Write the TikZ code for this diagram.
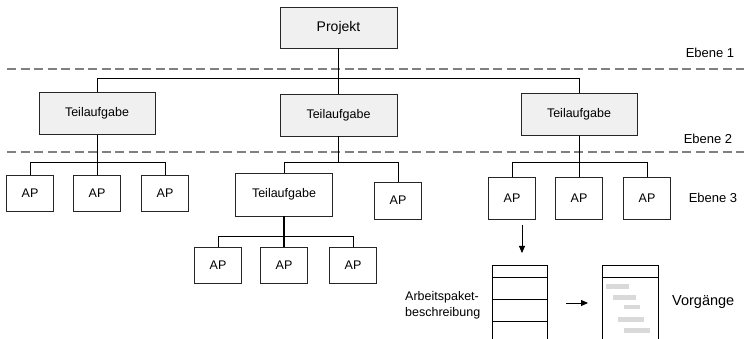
\documentclass[tikz,border=0pt]{standalone}
\usepackage{fontspec}
\setmainfont{Liberation Sans}
\usetikzlibrary{arrows.meta}
\begin{document}
\begin{tikzpicture}[x=1pt,y=-1pt,
  box/.style={draw=black!85,line width=0.9pt,inner sep=0pt,font=\fontsize{12.5}{15}\selectfont},
  greybox/.style={box,fill=black!6,minimum width=116pt,minimum height=42pt},
  apbox/.style={box,fill=white,minimum width=47pt,minimum height=36pt},
  conn/.style={draw=black,line width=0.9pt},
  level/.style={draw=black!50,line width=1.5pt,dash pattern=on 9pt off 4.5pt},
  lbl/.style={inner sep=0pt,font=\fontsize{13}{15}\selectfont},
  arr/.style={draw=black,line width=0.9pt,-{Triangle[length=7pt,width=6pt]}},
  bar/.style={fill=black!15,draw=none}
]
\useasboundingbox (0,0) rectangle (748,339);
% level lines
\coordinate (l1a) at (7,69); \coordinate (l1b) at (744,69);
\coordinate (l2a) at (7,152); \coordinate (l2b) at (744,152);
\draw[level] (l1a) -- (l1b);
\draw[level] (l2a) -- (l2b);
\node[lbl] (e1) at (710,53) {Ebene 1};
\node[lbl] (e2) at (708,139) {Ebene 2};
\node[lbl] (e3) at (713,198) {Ebene 3};
% nodes
\node[greybox,font=\fontsize{14}{16}\selectfont,minimum width=117pt,minimum height=41pt] (P) at (338.5,27.5) {Projekt};
\node[greybox] (T1) at (97,113.5) {Teilaufgabe};
\node[greybox,minimum width=117pt] (T2) at (338.5,115) {Teilaufgabe};
\node[greybox] (T3) at (579,114.5) {Teilaufgabe};
\node[apbox] (A1) at (30,193) {AP};
\node[apbox] (A2) at (97,193) {AP};
\node[apbox] (A3) at (165,193) {AP};
\node[box,fill=white,minimum width=97pt,minimum height=43pt] (T4) at (284,194.5) {Teilaufgabe};
\node[apbox,minimum height=37pt] (A4) at (398,200.5) {AP};
\node[apbox] (A5) at (218,265) {AP};
\node[apbox] (A6) at (284,265) {AP};
\node[apbox] (A7) at (353,265) {AP};
\node[apbox,minimum height=42pt] (A8) at (512,198) {AP};
\node[apbox,minimum height=42pt] (A9) at (579,198) {AP};
\node[apbox,minimum height=42pt] (A10) at (647,198) {AP};
% bars
\coordinate (b1) at (0,78);
\coordinate (b2) at (0,162);
\coordinate (b3) at (0,236);
\draw[conn] (P.south) -- (T2.north);
\draw[conn] (T1.north) |- (T3.north |- b1) -- (T3.north);
\draw[conn] (T1.south) -- (A2.north);
\draw[conn] (A1.north) |- (A3.north |- b2) -- (A3.north);
\draw[conn] (T2.south) -- (T2.south |- b2);
\draw[conn] (T4.north) |- (A4.north |- b2) -- (A4.north);
\draw[conn] (T3.south) -- (A9.north);
\draw[conn] (A8.north) |- (A10.north |- b2) -- (A10.north);
\draw[conn,line width=1.4pt] (T4.south) -- (A6.north);
\draw[conn] (A5.north) |- (A7.north |- b3) -- (A7.north);
% work package description
\coordinate (d1) at (522,225); \coordinate (d2) at (522,253);
\draw[arr] (d1) -- (d2);
\draw[draw=black,line width=0.9pt] (492,340) -- (492,265) -- (547,265) -- (547,340);
\draw[draw=black,line width=0.9pt] (492,277) -- (547,277) (492,299) -- (547,299) (492,321) -- (547,321);
\node[inner sep=0pt,align=left,anchor=west,font=\fontsize{12.5}{16}\selectfont] (apb) at (405,305) {Arbeitspaket-\\beschreibung};
\coordinate (r1) at (566,303); \coordinate (r2) at (588,303);
\draw[arr] (r1) -- (r2);
\draw[draw=black,line width=0.9pt] (602,340) -- (602,265) -- (658,265) -- (658,340);
\draw[draw=black,line width=0.9pt] (602,277) -- (658,277);
\fill[bar] (606,284) rectangle (629,289);
\fill[bar] (613,295.5) rectangle (636,300.5);
\fill[bar] (624,305) rectangle (640,309.5);
\fill[bar] (618,317) rectangle (644,322);
\fill[bar] (624,328) rectangle (650,333);
\node[lbl,anchor=west,font=\fontsize{14.5}{16}\selectfont] (vg) at (672,302) {Vorgänge};
\end{tikzpicture}
\end{document}
